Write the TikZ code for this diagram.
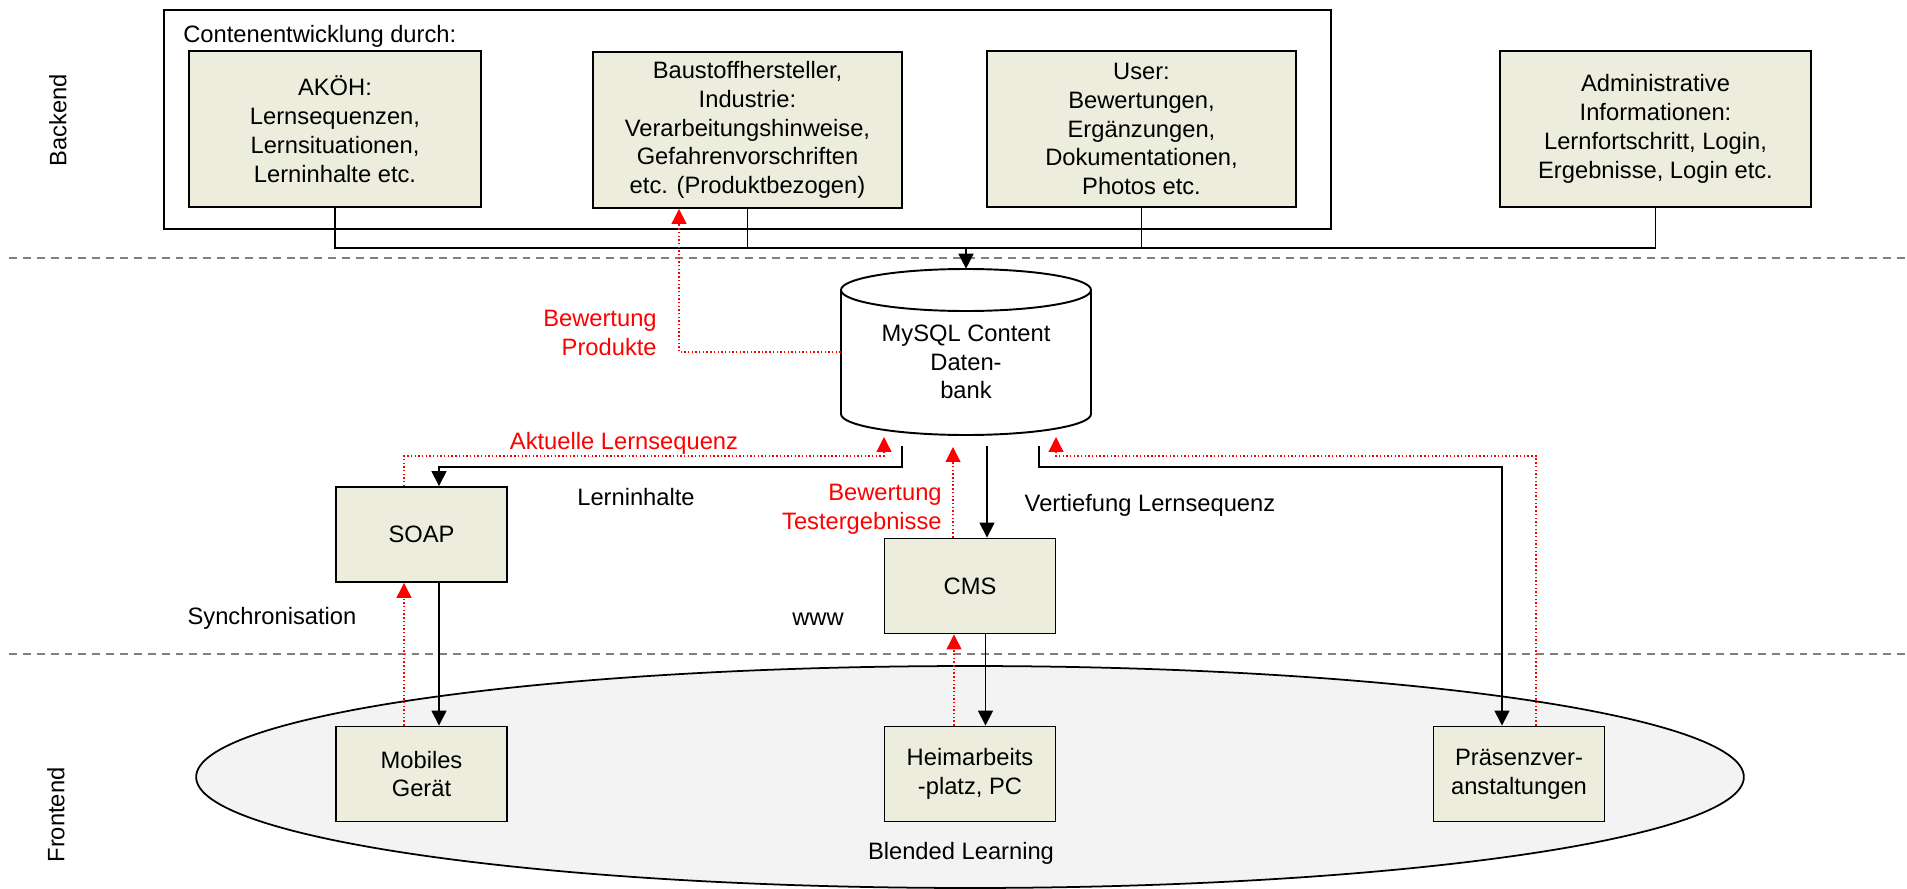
\documentclass[tikz,border=0pt]{standalone}
\usepackage{fontspec}
\setmainfont{Liberation Sans}
\usetikzlibrary{arrows.meta,shapes.geometric}
\definecolor{boxfill}{RGB}{237,237,222}
\definecolor{sepgray}{RGB}{128,128,128}
\definecolor{ellfill}{RGB}{243,243,243}
\begin{document}
\begin{tikzpicture}[x=0.02cm,y=-0.02cm,
  every node/.style={font=\fontsize{13.5}{16.4}\selectfont, inner sep=0pt},
  box/.style={draw, line width=1.1pt, fill=boxfill, align=center},
  bigbox/.style={box, minimum height=3.12cm},
  smallbox/.style={box, minimum width=3.42cm, minimum height=1.9cm},
  conn/.style={line width=0.9pt},
  arr/.style={conn, -{Triangle[length=8.5pt,width=8.5pt]}},
  redarr/.style={red, line width=0.7pt, dash pattern=on 0.8pt off 1.3pt, -{Triangle[length=8.5pt,width=8.5pt]}},
  sepline/.style={sepgray, line width=0.9pt, dash pattern=on 4.5pt off 3.4pt},
  redlbl/.style={red, align=right}
]
\useasboundingbox (0,0) rectangle (1907,889);

% separators
\coordinate (sepL1) at (9,258); \coordinate (sepR1) at (1907,258);
\coordinate (sepL2) at (9,654); \coordinate (sepR2) at (1907,654);
\draw[sepline] (sepL1) -- (sepR1);
\draw[sepline] (sepL2) -- (sepR2);

% side labels
\node[rotate=90] (backend) at (58,120) {Backend};
\node[rotate=90] (frontend) at (56,815) {Frontend};

% frontend ellipse
\node[ellipse, draw, line width=1pt, fill=ellfill, minimum width=30.96cm, minimum height=4.44cm] (blend) at (970,777) {};
\node (blendlbl) at (961,853) {Blended Learning};

% backend content boxes
\node[draw, line width=1.1pt, minimum width=23.34cm, minimum height=4.38cm] (outer) at (747.5,119.5) {};
\node[anchor=west] (contlbl) at (183,36) {Contenentwicklung durch:};
\node[bigbox, minimum width=5.84cm] (akoh) at (335,129) {AKÖH:\\Lernsequenzen,\\Lernsituationen,\\Lerninhalte etc.};
\node[bigbox, minimum width=6.18cm] (baustoff) at (747.5,130) {Baustoffhersteller,\\Industrie:\\Verarbeitungshinweise,\\Gefahrenvorschriften\\etc. (Produktbezogen)};
\node[bigbox, minimum width=6.18cm] (user) at (1141.5,129) {User:\\Bewertungen,\\Ergänzungen,\\Dokumentationen,\\Photos etc.};
\node[bigbox, minimum width=6.22cm] (admin) at (1655.5,129) {Administrative\\Informationen:\\Lernfortschritt, Login,\\Ergebnisse, Login etc.};

% database cylinder
\node[minimum width=5cm, minimum height=3.32cm] (db) at (966,352) {};
\draw[line width=1.1pt] (841,290) -- (841,414) arc[start angle=180, end angle=0, x radius=125, y radius=21] -- (1091,290);
\draw[line width=1.1pt] (966,290) ellipse [x radius=125, y radius=21];
\node[align=center] (dbtext) at (966,362) {MySQL Content\\Daten-\\bank};

% bus to database
\coordinate (bus) at (966,248);
\draw[conn] (akoh.south) |- (admin.south |- bus) -- (admin.south);
\draw[conn] (baustoff.south) -- (baustoff.south |- bus);
\draw[conn] (user.south) -- (user.south |- bus);
\draw[arr] (bus) -- (db.north);

% rating products
\draw[redarr] (db.west) -| ([xshift=-1.37cm]baustoff.south);
\node[redlbl, anchor=east] (bwprod) at (657,333) {Bewertung\\Produkte};

% middle boxes
\node[smallbox] (soap) at (421.5,534.5) {SOAP};
\node[smallbox] (cms) at (970,586) {CMS};
\node[smallbox] (mobil) at (421.5,774) {Mobiles\\Gerät};
\node[smallbox] (heim) at (970,774) {Heimarbeits\\-platz, PC};
\node[smallbox] (praes) at (1519,774) {Präsenzver-\\anstaltungen};

% levels and ports
\coordinate (lvl1) at (0,467);
\coordinate (lvl2) at (0,456);
\coordinate (dbo1) at (902,446);
\coordinate (dbo2) at (987,446);
\coordinate (dbo3) at (1039,446);
\coordinate (dbi1) at (884,437);
\coordinate (dbi2) at (953,447);
\coordinate (dbi3) at (1056,437);
\coordinate (soapIn) at ([xshift=0.35cm]soap.north);
\coordinate (soapOut) at ([xshift=-0.35cm]soap.north);
\coordinate (prIn) at ([xshift=-0.34cm]praes.north);
\coordinate (prOut) at ([xshift=0.34cm]praes.north);

% DB <-> SOAP
\draw[arr] (dbo1) -- (dbo1 |- lvl1) -| (soapIn);
\draw[redarr] (soapOut) |- (dbi1 |- lvl2) -- (dbi1);
% DB <-> CMS
\draw[arr] (dbo2) -- (dbo2 |- cms.north);
\draw[redarr] (dbi2 |- cms.north) -- (dbi2);
% DB <-> Praesenz
\draw[arr] (dbo3) -- (dbo3 |- lvl1) -| (prIn);
\draw[redarr] (prOut) |- (dbi3 |- lvl2) -- (dbi3);
% SOAP <-> Mobiles
\draw[arr] ([xshift=0.35cm]soap.south) -- ([xshift=0.35cm]mobil.north);
\draw[redarr] ([xshift=-0.35cm]mobil.north) -- ([xshift=-0.35cm]soap.south);
% CMS <-> Heim
\draw[arr] ([xshift=0.31cm]cms.south) -- ([xshift=0.31cm]heim.north);
\draw[redarr] ([xshift=-0.32cm]heim.north) -- ([xshift=-0.32cm]cms.south);

% labels
\node[red] (aktlbl) at (624,443) {Aktuelle Lernsequenz};
\node (lernlbl) at (636,497) {Lerninhalte};
\node[redlbl, anchor=east] (bwtest) at (942,509) {Bewertung\\Testergebnisse};
\node (vertlbl) at (1150,505) {Vertiefung Lernsequenz};
\node (synclbl) at (272,618) {Synchronisation};
\node (wwwlbl) at (818,619) {www};
\end{tikzpicture}
\end{document}
